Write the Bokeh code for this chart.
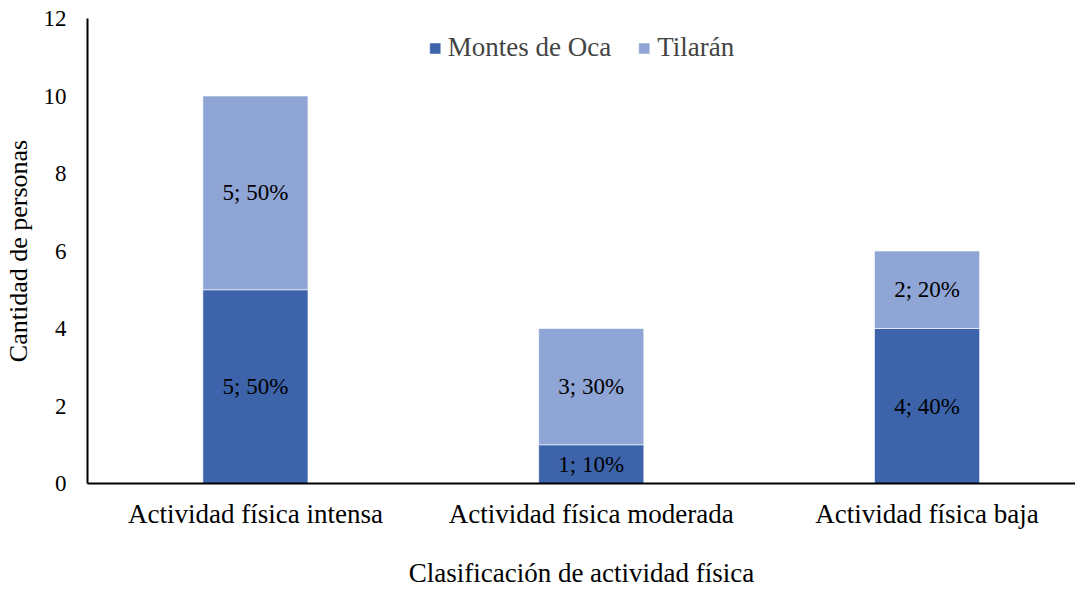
from bokeh.plotting import figure
from bokeh.models import Range1d, FixedTicker, ColumnDataSource, Legend, LegendItem, LabelSet
from bokeh.core.properties import value
from bokeh.embed import file_html
from bokeh.resources import INLINE

categories = ["Actividad física intensa", "Actividad física moderada", "Actividad física baja"]
montes = [5, 1, 4]
tilaran = [5, 3, 2]
montes_labels = ["5; 50%", "1; 10%", "4; 40%"]
tilaran_labels = ["5; 50%", "3; 30%", "2; 20%"]
series_names = ["Montes de Oca", "Tilarán"]
colors = ["#3D64AB", "#8FA5D5"]

FONT = "Liberation Serif"
BIG = "27px"
SMALL = "23px"
x = [i + 0.5 for i in range(len(categories))]
bottom2 = montes
top2 = [a + b for a, b in zip(montes, tilaran)]

src = ColumnDataSource(dict(
    x=x, m=montes, t0=bottom2, t1=top2,
    mmid=[v / 2 for v in montes],
    tmid=[(a + b) / 2 for a, b in zip(bottom2, top2)],
    ml=montes_labels, tl=tilaran_labels,
))

p = figure(width=1075, height=592, output_backend="svg", toolbar_location=None,
           x_range=Range1d(0, 2.942), y_range=Range1d(0, 12))
p.min_border_left = 85
p.min_border_right = 0
p.min_border_top = 18
p.min_border_bottom = 109
p.outline_line_color = None
p.grid.visible = False

r1 = p.vbar(x="x", top="m", bottom=0, width=0.313, source=src,
            fill_color=colors[0], line_color="white", line_width=0.6)
r2 = p.vbar(x="x", top="t1", bottom="t0", width=0.313, source=src,
            fill_color=colors[1], line_color="white", line_width=0.6)

for ycol, tcol in (("mmid", "ml"), ("tmid", "tl")):
    p.add_layout(LabelSet(x="x", y=ycol, text=tcol, source=src,
                          text_align="center", text_baseline="middle",
                          text_font=value(FONT), text_font_size=SMALL,
                          text_color="black"))

p.xaxis.ticker = FixedTicker(ticks=x)
p.xaxis.major_label_overrides = {xx: c for xx, c in zip(x, categories)}
p.yaxis.ticker = FixedTicker(ticks=[0, 2, 4, 6, 8, 10, 12])

for ax in (p.xaxis[0], p.yaxis[0]):
    ax.axis_line_color = "black"
    ax.axis_line_width = 2
    ax.major_tick_line_color = None
    ax.minor_tick_line_color = None
    ax.major_tick_out = 0
    ax.major_tick_in = 0
    ax.major_label_text_font = FONT
    ax.major_label_text_color = "black"
    ax.axis_label_text_font = FONT
    ax.axis_label_text_font_size = BIG
    ax.axis_label_text_font_style = "normal"
    ax.axis_label_text_color = "black"

p.xaxis.major_label_text_font_size = BIG
p.yaxis.major_label_text_font_size = SMALL
p.yaxis.axis_label_text_font_size = "26px"
p.xaxis.axis_label = "Clasificación de actividad física"
p.yaxis.axis_label = "Cantidad de personas"
p.xaxis.major_label_standoff = 15
p.xaxis.axis_label_standoff = 26
p.yaxis.major_label_standoff = 21
p.yaxis.axis_label_standoff = 8

legend = Legend(items=[LegendItem(label=series_names[0], renderers=[r1]),
                       LegendItem(label=series_names[1], renderers=[r2])],
                location="top_center", orientation="horizontal",
                label_text_font=FONT, label_text_font_size=BIG,
                glyph_width=14, glyph_height=14, spacing=26, label_standoff=6,
                background_fill_alpha=0, border_line_color=None, margin=14, padding=4)
p.add_layout(legend)

open("out.html", "w").write(file_html(p, INLINE))
